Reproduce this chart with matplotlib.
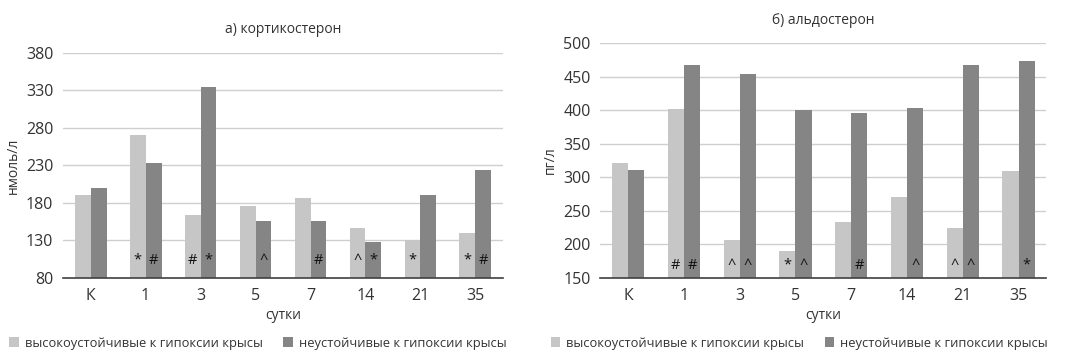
import numpy as np
import matplotlib.pyplot as plt

plt.rcParams['font.family'] = ['Open Sans', 'DejaVu Sans']

days = ['К', '1', '3', '5', '7', '14', '21', '35']
series_names = ['высокоустойчивые к гипоксии крысы', 'неустойчивые к гипоксии крысы']

cort_high = [190, 270, 164, 176, 186, 147, 131, 140]
cort_low = [200, 233, 335, 156, 156, 128, 190, 224]
cort_marks_high = ['', '*', '#', '', '', '^', '*', '*']
cort_marks_low = ['', '#', '*', '^', '#', '*', '', '#']

aldo_high = [321, 402, 206, 190, 234, 270, 225, 309]
aldo_low = [311, 467, 454, 400, 396, 403, 467, 474]
aldo_marks_high = ['', '#', '^', '*', '', '', '^', '']
aldo_marks_low = ['', '#', '^', '^', '#', '^', '^', '*']

light = '#c6c6c6'
dark = '#858585'
txt = '#333333'

fig = plt.figure(figsize=(10.7, 3.62), dpi=100)
ax1 = fig.add_axes([0.059, 0.232, 0.411, 0.622])
ax2 = fig.add_axes([0.561, 0.232, 0.417, 0.649])

x = np.arange(len(days))
w = 0.29


def draw(ax, hi, lo, mhi, mlo, ylim, step, title, ylabel, mark_y):
    b1 = ax.bar(x - w / 2, np.array(hi) - ylim[0], w, bottom=ylim[0], color=light, zorder=2)
    b2 = ax.bar(x + w / 2, np.array(lo) - ylim[0], w, bottom=ylim[0], color=dark, zorder=2)
    for i in range(len(days)):
        if mhi[i]:
            ax.text(x[i] - w / 2, mark_y, mhi[i], ha='center', va='baseline',
                    fontsize=10.5, color='#111111', zorder=3)
        if mlo[i]:
            ax.text(x[i] + w / 2, mark_y, mlo[i], ha='center', va='baseline',
                    fontsize=10.5, color='#111111', zorder=3)
    ax.set_ylim(*ylim)
    ax.set_xlim(-0.5, len(days) - 0.5)
    ax.set_yticks(np.arange(ylim[0], ylim[1] + 1, step))
    ax.set_xticks(x)
    ax.set_xticklabels(days)
    ax.grid(axis='y', color='#cfcfcf', linewidth=1, zorder=0)
    for s in ['top', 'right', 'left']:
        ax.spines[s].set_visible(False)
    ax.spines['bottom'].set_color('#404040')
    ax.spines['bottom'].set_linewidth(1.2)
    ax.tick_params(axis='both', length=0, labelsize=11.5, colors=txt, pad=7)
    ax.set_title(title, fontsize=10, color=txt, pad=14)
    ax.set_ylabel(ylabel, fontsize=10, color=txt, labelpad=4)
    ax.set_xlabel('сутки', fontsize=10, color=txt, labelpad=3)
    return b1, b2


b1, b2 = draw(ax1, cort_high, cort_low, cort_marks_high, cort_marks_low,
              (80, 380), 50, 'а) кортикостерон', 'нмоль/л', 99)
draw(ax2, aldo_high, aldo_low, aldo_marks_high, aldo_marks_low,
     (150, 500), 50, 'б) альдостерон', 'пг/л', 164)

for cx in [0.241, 0.747]:
    fig.legend([b1, b2], series_names, loc='center', bbox_to_anchor=(cx, 0.052),
               ncol=2, frameon=False, fontsize=9.3, handlelength=0.75, handleheight=0.75,
               handletextpad=0.45, columnspacing=1.6, labelcolor=txt)

fig.savefig('out.png', dpi=100)
